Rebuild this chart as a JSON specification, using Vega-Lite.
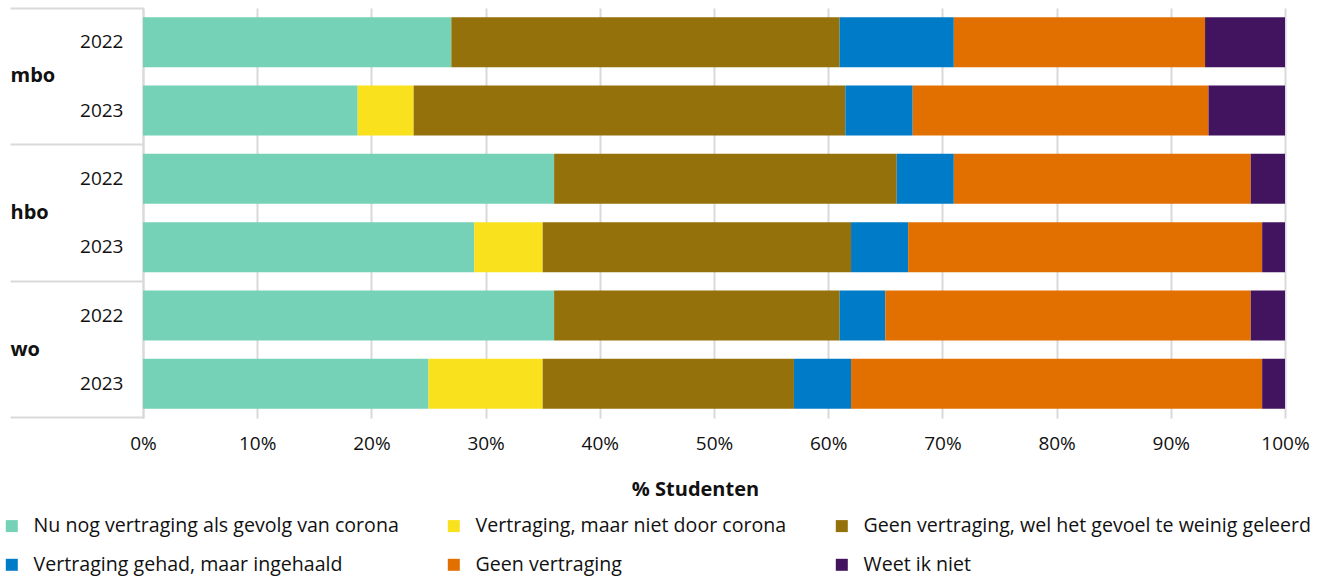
{
  "$schema": "https://vega.github.io/schema/vega-lite/v6.json",
  "width": 1142,
  "height": 410,
  "autosize": "none",
  "padding": {"left": 143, "top": 8, "right": 43, "bottom": 163},
  "background": "white",
  "config": {
    "font": "Open Sans",
    "view": {"stroke": null},
    "axis": {"labelColor": "#111111", "titleColor": "#111111"}
  },
  "data": {
    "values": [
      {"key": "mbo|2022", "categorie": "Nu nog vertraging als gevolg van corona", "volgorde": 1, "pct": 27},
      {"key": "mbo|2022", "categorie": "Geen vertraging, wel het gevoel te weinig geleerd", "volgorde": 3, "pct": 34},
      {"key": "mbo|2022", "categorie": "Vertraging gehad, maar ingehaald", "volgorde": 4, "pct": 10},
      {"key": "mbo|2022", "categorie": "Geen vertraging", "volgorde": 5, "pct": 22},
      {"key": "mbo|2022", "categorie": "Weet ik niet", "volgorde": 6, "pct": 7},
      {"key": "mbo|2023", "categorie": "Nu nog vertraging als gevolg van corona", "volgorde": 1, "pct": 18.8},
      {"key": "mbo|2023", "categorie": "Vertraging, maar niet door corona", "volgorde": 2, "pct": 4.9},
      {"key": "mbo|2023", "categorie": "Geen vertraging, wel het gevoel te weinig geleerd", "volgorde": 3, "pct": 37.8},
      {"key": "mbo|2023", "categorie": "Vertraging gehad, maar ingehaald", "volgorde": 4, "pct": 5.9},
      {"key": "mbo|2023", "categorie": "Geen vertraging", "volgorde": 5, "pct": 25.9},
      {"key": "mbo|2023", "categorie": "Weet ik niet", "volgorde": 6, "pct": 6.7},
      {"key": "hbo|2022", "categorie": "Nu nog vertraging als gevolg van corona", "volgorde": 1, "pct": 36},
      {"key": "hbo|2022", "categorie": "Geen vertraging, wel het gevoel te weinig geleerd", "volgorde": 3, "pct": 30},
      {"key": "hbo|2022", "categorie": "Vertraging gehad, maar ingehaald", "volgorde": 4, "pct": 5},
      {"key": "hbo|2022", "categorie": "Geen vertraging", "volgorde": 5, "pct": 26},
      {"key": "hbo|2022", "categorie": "Weet ik niet", "volgorde": 6, "pct": 3},
      {"key": "hbo|2023", "categorie": "Nu nog vertraging als gevolg van corona", "volgorde": 1, "pct": 29},
      {"key": "hbo|2023", "categorie": "Vertraging, maar niet door corona", "volgorde": 2, "pct": 6},
      {"key": "hbo|2023", "categorie": "Geen vertraging, wel het gevoel te weinig geleerd", "volgorde": 3, "pct": 27},
      {"key": "hbo|2023", "categorie": "Vertraging gehad, maar ingehaald", "volgorde": 4, "pct": 5},
      {"key": "hbo|2023", "categorie": "Geen vertraging", "volgorde": 5, "pct": 31},
      {"key": "hbo|2023", "categorie": "Weet ik niet", "volgorde": 6, "pct": 2},
      {"key": "wo|2022", "categorie": "Nu nog vertraging als gevolg van corona", "volgorde": 1, "pct": 36},
      {"key": "wo|2022", "categorie": "Geen vertraging, wel het gevoel te weinig geleerd", "volgorde": 3, "pct": 25},
      {"key": "wo|2022", "categorie": "Vertraging gehad, maar ingehaald", "volgorde": 4, "pct": 4},
      {"key": "wo|2022", "categorie": "Geen vertraging", "volgorde": 5, "pct": 32},
      {"key": "wo|2022", "categorie": "Weet ik niet", "volgorde": 6, "pct": 3},
      {"key": "wo|2023", "categorie": "Nu nog vertraging als gevolg van corona", "volgorde": 1, "pct": 25},
      {"key": "wo|2023", "categorie": "Vertraging, maar niet door corona", "volgorde": 2, "pct": 10},
      {"key": "wo|2023", "categorie": "Geen vertraging, wel het gevoel te weinig geleerd", "volgorde": 3, "pct": 22},
      {"key": "wo|2023", "categorie": "Vertraging gehad, maar ingehaald", "volgorde": 4, "pct": 5},
      {"key": "wo|2023", "categorie": "Geen vertraging", "volgorde": 5, "pct": 36},
      {"key": "wo|2023", "categorie": "Weet ik niet", "volgorde": 6, "pct": 2}
    ]
  },
  "layer": [
    {
      "mark": {"type": "bar", "height": {"band": 0.732}},
      "encoding": {
        "y": {
          "field": "key",
          "type": "nominal",
          "sort": ["mbo|2022", "mbo|2023", "hbo|2022", "hbo|2023", "wo|2022", "wo|2023"],
          "scale": {"paddingInner": 0, "paddingOuter": 0},
          "axis": {
            "orient": "left",
            "title": null,
            "ticks": false,
            "domain": true,
            "domainColor": "#d9d9d9",
            "domainWidth": 2,
            "grid": false,
            "labelExpr": "split(datum.value, '|')[1]",
            "labelFontSize": 19,
            "labelPadding": 20,
            "labelBaseline": "middle"
          }
        },
        "x": {
          "field": "pct",
          "type": "quantitative",
          "stack": "zero",
          "scale": {"domain": [0, 100], "nice": false},
          "axis": {
            "values": [0, 10, 20, 30, 40, 50, 60, 70, 80, 90, 100],
            "labelExpr": "datum.value + '%'",
            "labelFlush": false,
            "labelFontSize": 19,
            "labelPadding": 16,
            "ticks": false,
            "domain": false,
            "grid": true,
            "gridColor": "#d9d9d9",
            "gridWidth": 2,
            "title": "% Studenten",
            "titleFontSize": 20,
            "titleFontWeight": "bold",
            "titlePadding": 26,
            "titleX": 552
          }
        },
        "color": {
          "field": "categorie",
          "type": "nominal",
          "scale": {
            "domain": [
              "Nu nog vertraging als gevolg van corona",
              "Vertraging, maar niet door corona",
              "Geen vertraging, wel het gevoel te weinig geleerd",
              "Vertraging gehad, maar ingehaald",
              "Geen vertraging",
              "Weet ik niet"
            ],
            "range": ["#76d2b6", "#f9e11e", "#94710a", "#007bc7", "#e17000", "#42145f"]
          },
          "legend": {
            "title": null,
            "orient": "none",
            "direction": "horizontal",
            "legendX": -141,
            "legendY": 508,
            "columns": 3,
            "columnPadding": 45,
            "rowPadding": 18,
            "padding": 0,
            "symbolType": "square",
            "symbolSize": 144,
            "symbolStrokeWidth": 0,
            "symbolOpacity": 1,
            "labelFontSize": 19.6,
            "labelOffset": 12,
            "labelLimit": 700,
            "labelColor": "#111111"
          }
        },
        "order": {"field": "volgorde", "type": "quantitative"}
      }
    },
    {
      "mark": {"type": "text"},
      "encoding": {
        "y": {
          "field": "key",
          "type": "nominal",
          "sort": ["mbo|2022", "mbo|2023", "hbo|2022", "hbo|2023", "wo|2022", "wo|2023"],
          "axis": {
            "orient": "left",
            "title": null,
            "values": ["mbo|2022", "hbo|2022", "wo|2022"],
            "bandPosition": 0,
            "ticks": true,
            "tickSize": 133,
            "tickColor": "#d9d9d9",
            "tickWidth": 2,
            "domain": false,
            "grid": false,
            "labelExpr": "split(datum.value, '|')[0]",
            "labelAlign": "left",
            "labelPadding": 0,
            "labelOffset": 34.17,
            "labelBaseline": "middle",
            "labelFontSize": 20,
            "labelFontWeight": "bold"
          }
        },
        "text": {"value": ""}
      }
    },
    {
      "mark": {"type": "text"},
      "encoding": {
        "y": {
          "field": "key",
          "type": "nominal",
          "sort": ["mbo|2022", "mbo|2023", "hbo|2022", "hbo|2023", "wo|2022", "wo|2023"],
          "axis": {
            "orient": "left",
            "title": null,
            "values": ["wo|2023"],
            "bandPosition": 1,
            "ticks": true,
            "tickSize": 133,
            "tickColor": "#d9d9d9",
            "tickWidth": 2,
            "domain": false,
            "grid": false,
            "labels": false
          }
        },
        "text": {"value": ""}
      }
    }
  ],
  "resolve": {"axis": {"y": "independent"}}
}
